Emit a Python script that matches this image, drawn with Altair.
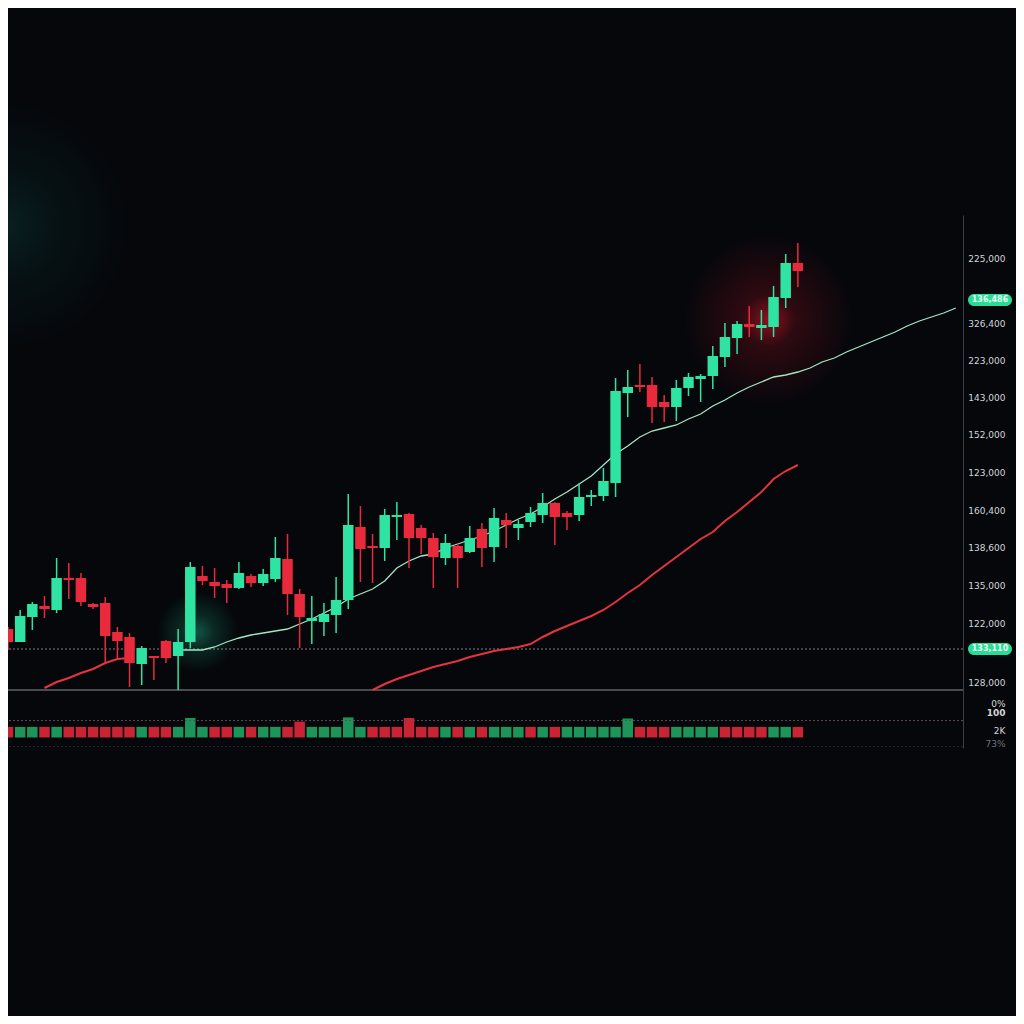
import altair as alt
import pandas as pd

# ---------------- data ----------------
candle_no = list(range(1, 67))
opens = [126100,124800,127300,128400,128000,131200,131200,128600,128700,125800,
         125300,122600,123400,124900,123400,124800,131400,130800,130600,130200,
         131400,130700,131100,133100,129600,126900,126800,127500,129000,136300,
         134400,134200,137300,137600,136200,135200,133200,134400,133800,136100,
         134300,137000,136200,136800,137500,138700,137700,137500,139300,139400,
         140700,149700,150500,150500,148800,148300,150200,151100,151400,153300,
         155200,156600,156200,156300,159200,162700]
highs = [126300,128000,128800,129400,133200,132700,131700,128700,129300,126300,
         125700,124400,123400,125000,126100,132800,132400,132200,131000,132800,
         131600,132100,135300,135600,130100,129400,128700,131300,139600,138400,
         135600,138100,138800,137700,136500,135700,135600,134700,136400,136700,
         138200,137700,137000,138300,139700,138800,137900,140700,140000,142200,
         151200,152000,152600,151300,149500,151000,151700,151600,154400,156700,
         156900,158400,158000,160400,163600,164700]
lows = [124000,125000,126000,127200,127700,129100,128400,128100,122700,123000,
        120300,120500,121000,122700,120000,124200,130500,129200,128700,130100,
        130300,130400,130800,127500,124200,124600,125400,125700,128100,130800,
        130700,132900,135000,132200,133600,130200,132500,130200,133700,132300,
        132800,134200,135000,136300,136700,134500,136000,136900,138400,138900,
        139300,147300,149800,146700,146800,146900,149400,148800,150100,152300,
        153600,155300,155000,155300,158200,160300]
closes = [124800,127400,128600,128100,131200,131000,128800,128300,125400,124900,
          122700,124200,123200,123200,124800,132300,130900,130400,130200,131700,
          130700,131600,133200,129600,127300,127200,127600,129000,136500,134100,
          134200,137500,137500,135200,135200,133300,134700,133200,135200,134200,
          137200,136500,136600,137700,138700,137300,137300,139300,139500,140900,
          149900,150300,150300,148300,148300,150200,151300,151400,153400,155300,
          156600,156300,156500,159300,162700,161900]

volumes = [100,100,100,100,100,100,100,100,100,100,
           100,100,100,100,100,185,100,100,100,100,
           100,100,100,100,150,100,100,100,190,100,
           100,100,100,185,100,100,100,100,100,100,
           100,100,100,100,100,100,100,100,100,100,
           100,180,100,100,100,100,100,100,100,100,
           100,100,100,100,100,100]
volume_side = ["down","up","up","down","up","down","down","down","down","down",
               "down","up","down","down","up","up","up","down","down","up",
               "down","up","up","down","down","up","up","up","up","up",
               "down","down","down","down","down","down","up","down","up","down",
               "up","up","up","down","up","down","up","up","up","up",
               "up","up","down","down","down","up","up","up","up","down",
               "down","down","down","up","up","down"]

fast_ma_t = list(range(15, 80))
fast_ma = [124000,124000,124000,124300,124800,125200,125500,125700,125900,126100,
           126600,127100,127700,128300,129100,129600,130100,130900,132200,132900,
           133400,133600,134200,134600,135000,135400,135900,136500,137100,137600,
           138300,139100,139800,140600,141400,142500,143600,144400,145300,145900,
           146200,146500,147100,147600,148400,149000,149700,150300,150800,151300,
           151500,151800,152200,152800,153200,153800,154300,154800,155300,155800,
           156400,156900,157300,157700,158200]

slow_ma_a_t = list(range(4, 12))
slow_ma_a = [120200,120800,121200,121700,122100,122700,123100,123200]
slow_ma_b_t = list(range(31, 67))
slow_ma_b = [120000,120600,121100,121500,121900,122300,122600,122900,123300,123600,
             123900,124100,124300,124600,125300,125900,126400,126900,127400,128000,
             128800,129700,130500,131500,132400,133300,134200,135100,135800,136900,
             137800,138800,139800,141100,141900,142500]

ref_price = [124100]
base_price = [120000]
vol_avg = [160]
vol_floor = [-87]
tag_prices = [159000, 124100]
tag_labels = ["136,486", "133,110"]

tick_values = [163200,156700,153000,149300,145600,141800,138000,134300,130500,
               126700,120800,118700,117800,116000,114700]
tick_labels = ["225,000","326,400","223,000","143,000","152,000","123,000",
               "160,400","138,600","135,000","122,000","128,000",
               "0%","100","2K","73%"]

# ---------------- styling ----------------
BG = "#05070b"
GREEN = "#2fe3a2"
RED = "#e82a3c"
VGREEN = "#1f9c5f"
VRED = "#d42636"

candles = pd.DataFrame({"t": candle_no, "open": opens, "high": highs,
                        "low": lows, "close": closes,
                        "volume": volumes, "vside": volume_side})
fast_df = pd.DataFrame({"t": fast_ma_t, "ma": fast_ma})
slow_df = pd.concat([
    pd.DataFrame({"t": slow_ma_a_t, "ma": slow_ma_a, "seg": "a"}),
    pd.DataFrame({"t": slow_ma_b_t, "ma": slow_ma_b, "seg": "b"}),
])
tags = pd.DataFrame({"price": tag_prices, "label": tag_labels})

expr = "''"
for v, s in reversed(list(zip(tick_values, tick_labels))):
    expr = f"datum.value == {v} ? '{s}' : ({expr})"

x_scale = alt.Scale(domain=[1.41, 79.18], nice=False, zero=False)
p_scale = alt.Scale(domain=[114200, 167500], nice=False, zero=False)
v_scale = alt.Scale(domain=[-100, 4955], nice=False, zero=False)

p_axis = alt.Axis(orient="right", values=tick_values, labelExpr=expr,
                  ticks=False, tickSize=0, grid=False, domain=True,
                  domainColor="#3b3f45", domainWidth=1,
                  labelAlign="right", labelPadding=42,
                  labelFont="DejaVu Sans", labelFontSize=9,
                  labelColor={"condition": {"test": "datum.value < 115000", "value": "#6e7277"},
                              "value": "#d3d6d9"},
                  labelFontWeight={"condition": {"test": "datum.value == 117800", "value": "bold"},
                                   "value": "normal"},
                  labelOverlap=False, title="")


def X():
    return alt.X("t:Q", scale=x_scale, axis=None)


def PY(field):
    return alt.Y(field, type="quantitative", scale=p_scale, axis=p_axis)


def glow(rgb, a, mid=0.45, mid_at=0.4):
    return alt.RadialGradient(
        gradient="radial", x1=0.5, y1=0.5, r1=0, x2=0.5, y2=0.5, r2=0.5,
        stops=[alt.GradientStop(color=f"rgba({rgb},{a})", offset=0),
               alt.GradientStop(color=f"rgba({rgb},{a*mid})", offset=mid_at),
               alt.GradientStop(color=f"rgba({rgb},0)", offset=1)])


glow_tl = alt.Chart(pd.DataFrame({"t": [0.8], "price": [166500]})).mark_circle(
    fill=glow("20,130,120", 0.2), size=62000, opacity=1, strokeWidth=0
).encode(x=X(), y=PY("price"))
glow_teal = alt.Chart(pd.DataFrame({"t": [16.6], "price": [125800]})).mark_circle(
    fill=glow("40,230,170", 0.35), size=6500, opacity=1, strokeWidth=0
).encode(x=X(), y=PY("price"))
glow_red = alt.Chart(pd.DataFrame({"t": [63.6], "price": [157000]})).mark_circle(
    fill=glow("255,25,45", 0.55, 0.3, 0.3), size=30000, opacity=1, strokeWidth=0
).encode(x=X(), y=PY("price"))

ref_rule = alt.Chart(pd.DataFrame({"p": ref_price})).mark_rule(
    color="#a6aaaf", strokeDash=[2, 2], strokeWidth=1, opacity=0.75
).encode(y=PY("p"))
base_rule = alt.Chart(pd.DataFrame({"p": base_price})).mark_rule(
    color="#8c9095", strokeWidth=1.2
).encode(y=PY("p"))

slow_line = alt.Chart(slow_df).mark_line(color="#e5343e", strokeWidth=2).encode(
    x=X(), y=PY("ma"), detail="seg:N")
fast_line = alt.Chart(fast_df).mark_line(color="#a3e6c2", strokeWidth=1.3).encode(
    x=X(), y=PY("ma"))

cond = alt.condition("datum.close >= datum.open", alt.value(GREEN), alt.value(RED))
base = alt.Chart(candles)
wicks = base.mark_rule(strokeWidth=1.5).encode(
    x=X(), y=PY("low"), y2="high:Q", color=cond)
bodies = base.mark_bar(size=10.5).encode(
    x=X(), y=PY("open"), y2="close:Q", color=cond)

tag_box = alt.Chart(tags).transform_calculate(
    lo="datum.price - 600", hi="datum.price + 600"
).mark_rect(color="#27dc96", cornerRadius=6).encode(
    x=alt.value(960), x2=alt.value(1004), y=PY("lo"), y2="hi:Q")
tag_text = alt.Chart(tags).mark_text(
    color="#eafff4", fontSize=8, font="DejaVu Sans", fontWeight="bold"
).encode(x=alt.value(982), y=PY("price"), text="label:N")

price_layer = alt.layer(glow_tl, glow_teal, glow_red, ref_rule, base_rule,
                        slow_line, fast_line, wicks, bodies, tag_box, tag_text)

vbars = base.mark_bar(size=10.5, opacity=0.95).encode(
    x=X(),
    y=alt.Y("volume:Q", scale=v_scale, axis=None),
    y2=alt.datum(0),
    color=alt.condition("datum.vside == 'up'", alt.value(VGREEN), alt.value(VRED)))
vavg = alt.Chart(pd.DataFrame({"v": vol_avg})).mark_rule(
    color="#6a4a50", strokeDash=[2, 2], strokeWidth=1
).encode(y=alt.Y("v:Q", scale=v_scale, axis=None))
vfloor = alt.Chart(pd.DataFrame({"v": vol_floor})).mark_rule(
    color="#25282e", strokeDash=[2, 2], strokeWidth=1
).encode(y=alt.Y("v:Q", scale=v_scale, axis=None))
vol_layer = alt.layer(vbars, vavg, vfloor)

chart = alt.layer(price_layer, vol_layer).resolve_scale(y="independent").properties(
    width=955, height=533,
    autosize=alt.AutoSizeParams(type="none"),
    padding={"left": 0, "top": 207, "right": 53, "bottom": 268},
).configure(background=BG).configure_view(strokeWidth=0)

chart.save("out.html", embed_options={"renderer": "svg", "actions": False})
